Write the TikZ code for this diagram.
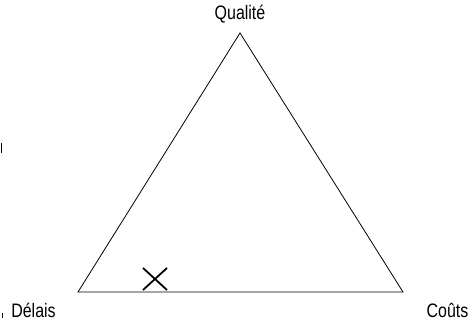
\documentclass[tikz,border=0pt]{standalone}
\usepackage{fontspec}
\setmainfont{Liberation Sans}[FakeStretch=0.82]
\begin{document}
\begin{tikzpicture}[x=1pt,y=1pt,
  lbl/.style={inner sep=0pt, anchor=base, font=\fontsize{19.5}{22}\selectfont},
  edge/.style={line width=0.8pt, line join=miter}]
\useasboundingbox (0,0) rectangle (470,323);
\coordinate (Q) at (240,290);
\coordinate (D) at (78,31);
\coordinate (C) at (403,31);
\draw[edge] (Q) -- (D) -- (C) -- cycle;
\node[lbl] (tq) at (240,303) {Qualité};
\node[lbl] (td) at (33.5,5) {Délais};
\node[lbl] (tc) at (447.5,5) {Coûts};
\coordinate (x1) at (143,55);
\coordinate (x2) at (167,33);
\coordinate (x3) at (143,33);
\coordinate (x4) at (167,55);
\draw[line width=1.8pt] (x1) -- (x2) (x3) -- (x4);
\coordinate (m1) at (1.5,180);
\coordinate (m2) at (1.5,170);
\draw[line width=1.5pt] (m1) -- (m2);
\coordinate (m3) at (2.5,10);
\coordinate (m4) at (2.5,5);
\draw[line width=1.2pt] (m3) -- (m4);
\end{tikzpicture}
\end{document}
